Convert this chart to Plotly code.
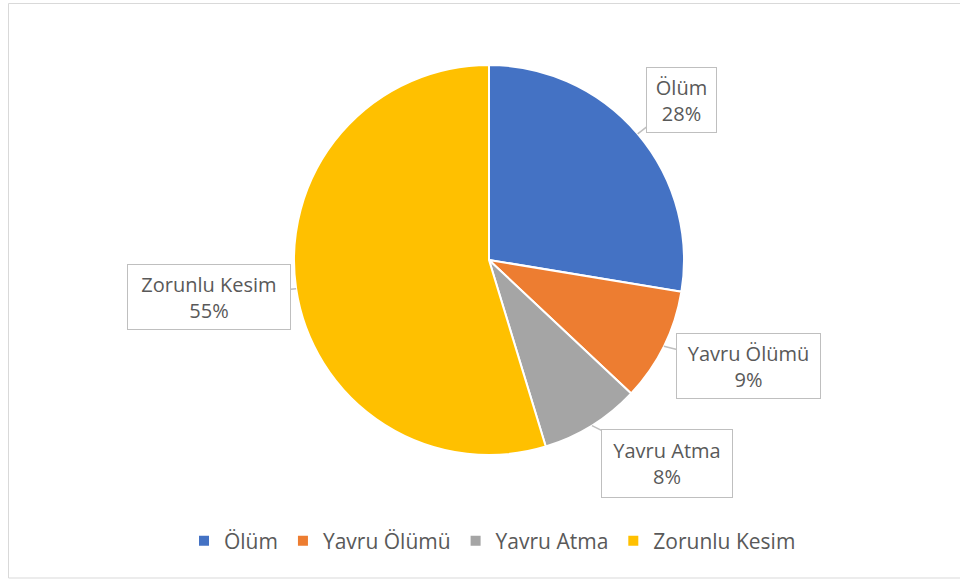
import math
import plotly.graph_objects as go

# data
labels = ["Ölüm", "Yavru Ölümü", "Yavru Atma", "Zorunlu Kesim"]
values = [27.6, 9.4, 8.3, 54.7]
colors = ["#4472C4", "#ED7D31", "#A5A5A5", "#FFC000"]

# callout box offsets from the slice edge (px) and box sizes
box_offsets = [(44, -34), (85, 20), (75, 38), (-87, 8)]
box_sizes = [(71, 66), (145, 66), (132, 69), (164, 66)]

W, H = 960, 580
cx, cy, r = 489, 260, 195

fig = go.Figure()
fig.add_trace(go.Pie(
    labels=labels, values=values, sort=False, direction="clockwise",
    rotation=0, marker=dict(colors=colors, line=dict(color="white", width=2)),
    textinfo="none", hoverinfo="label+percent",
    domain=dict(x=[(cx - r) / W, (cx + r) / W], y=[1 - (cy + r) / H, 1 - (cy - r) / H]),
))

total = sum(values)
start = 0
for lab, v, (ox, oy), (bw, bh) in zip(labels, values, box_offsets, box_sizes):
    mid = (start + v / 2) / total * 2 * math.pi
    start += v
    px = cx + r * math.sin(mid)
    py = cy - r * math.cos(mid)
    pct = round(v / total * 100)
    fig.add_annotation(
        x=px / W, y=1 - py / H, xref="paper", yref="paper",
        text=f"{lab}<br>{pct}%", showarrow=True, arrowhead=0,
        arrowwidth=1.5, arrowcolor="#BFBFBF",
        ax=ox, ay=oy, axref="pixel", ayref="pixel",
        width=bw - 10, height=bh - 10, borderpad=4,
        bordercolor="#BFBFBF", borderwidth=1, bgcolor="white",
        font=dict(family="Open Sans", size=20, color="#595959"),
    )

# chart border
fig.add_shape(type="rect", xref="paper", yref="paper",
              x0=8.5 / W, x1=1.01, y0=2 / H, y1=1 - 3.5 / H,
              line=dict(color="#D9D9D9", width=1))

fig.update_layout(
    width=W, height=H, margin=dict(l=0, r=0, t=0, b=0),
    paper_bgcolor="white", plot_bgcolor="white",
    font=dict(family="Open Sans", color="#595959"),
    legend=dict(orientation="h", x=0.513, xanchor="center", y=1 - 541 / H, yanchor="middle",
                font=dict(size=21, color="#595959"), itemwidth=30,
                traceorder="normal"),
)

fig.write_html("out.html", config={"displayModeBar": False},
               post_script="document.body.style.margin='0';")
